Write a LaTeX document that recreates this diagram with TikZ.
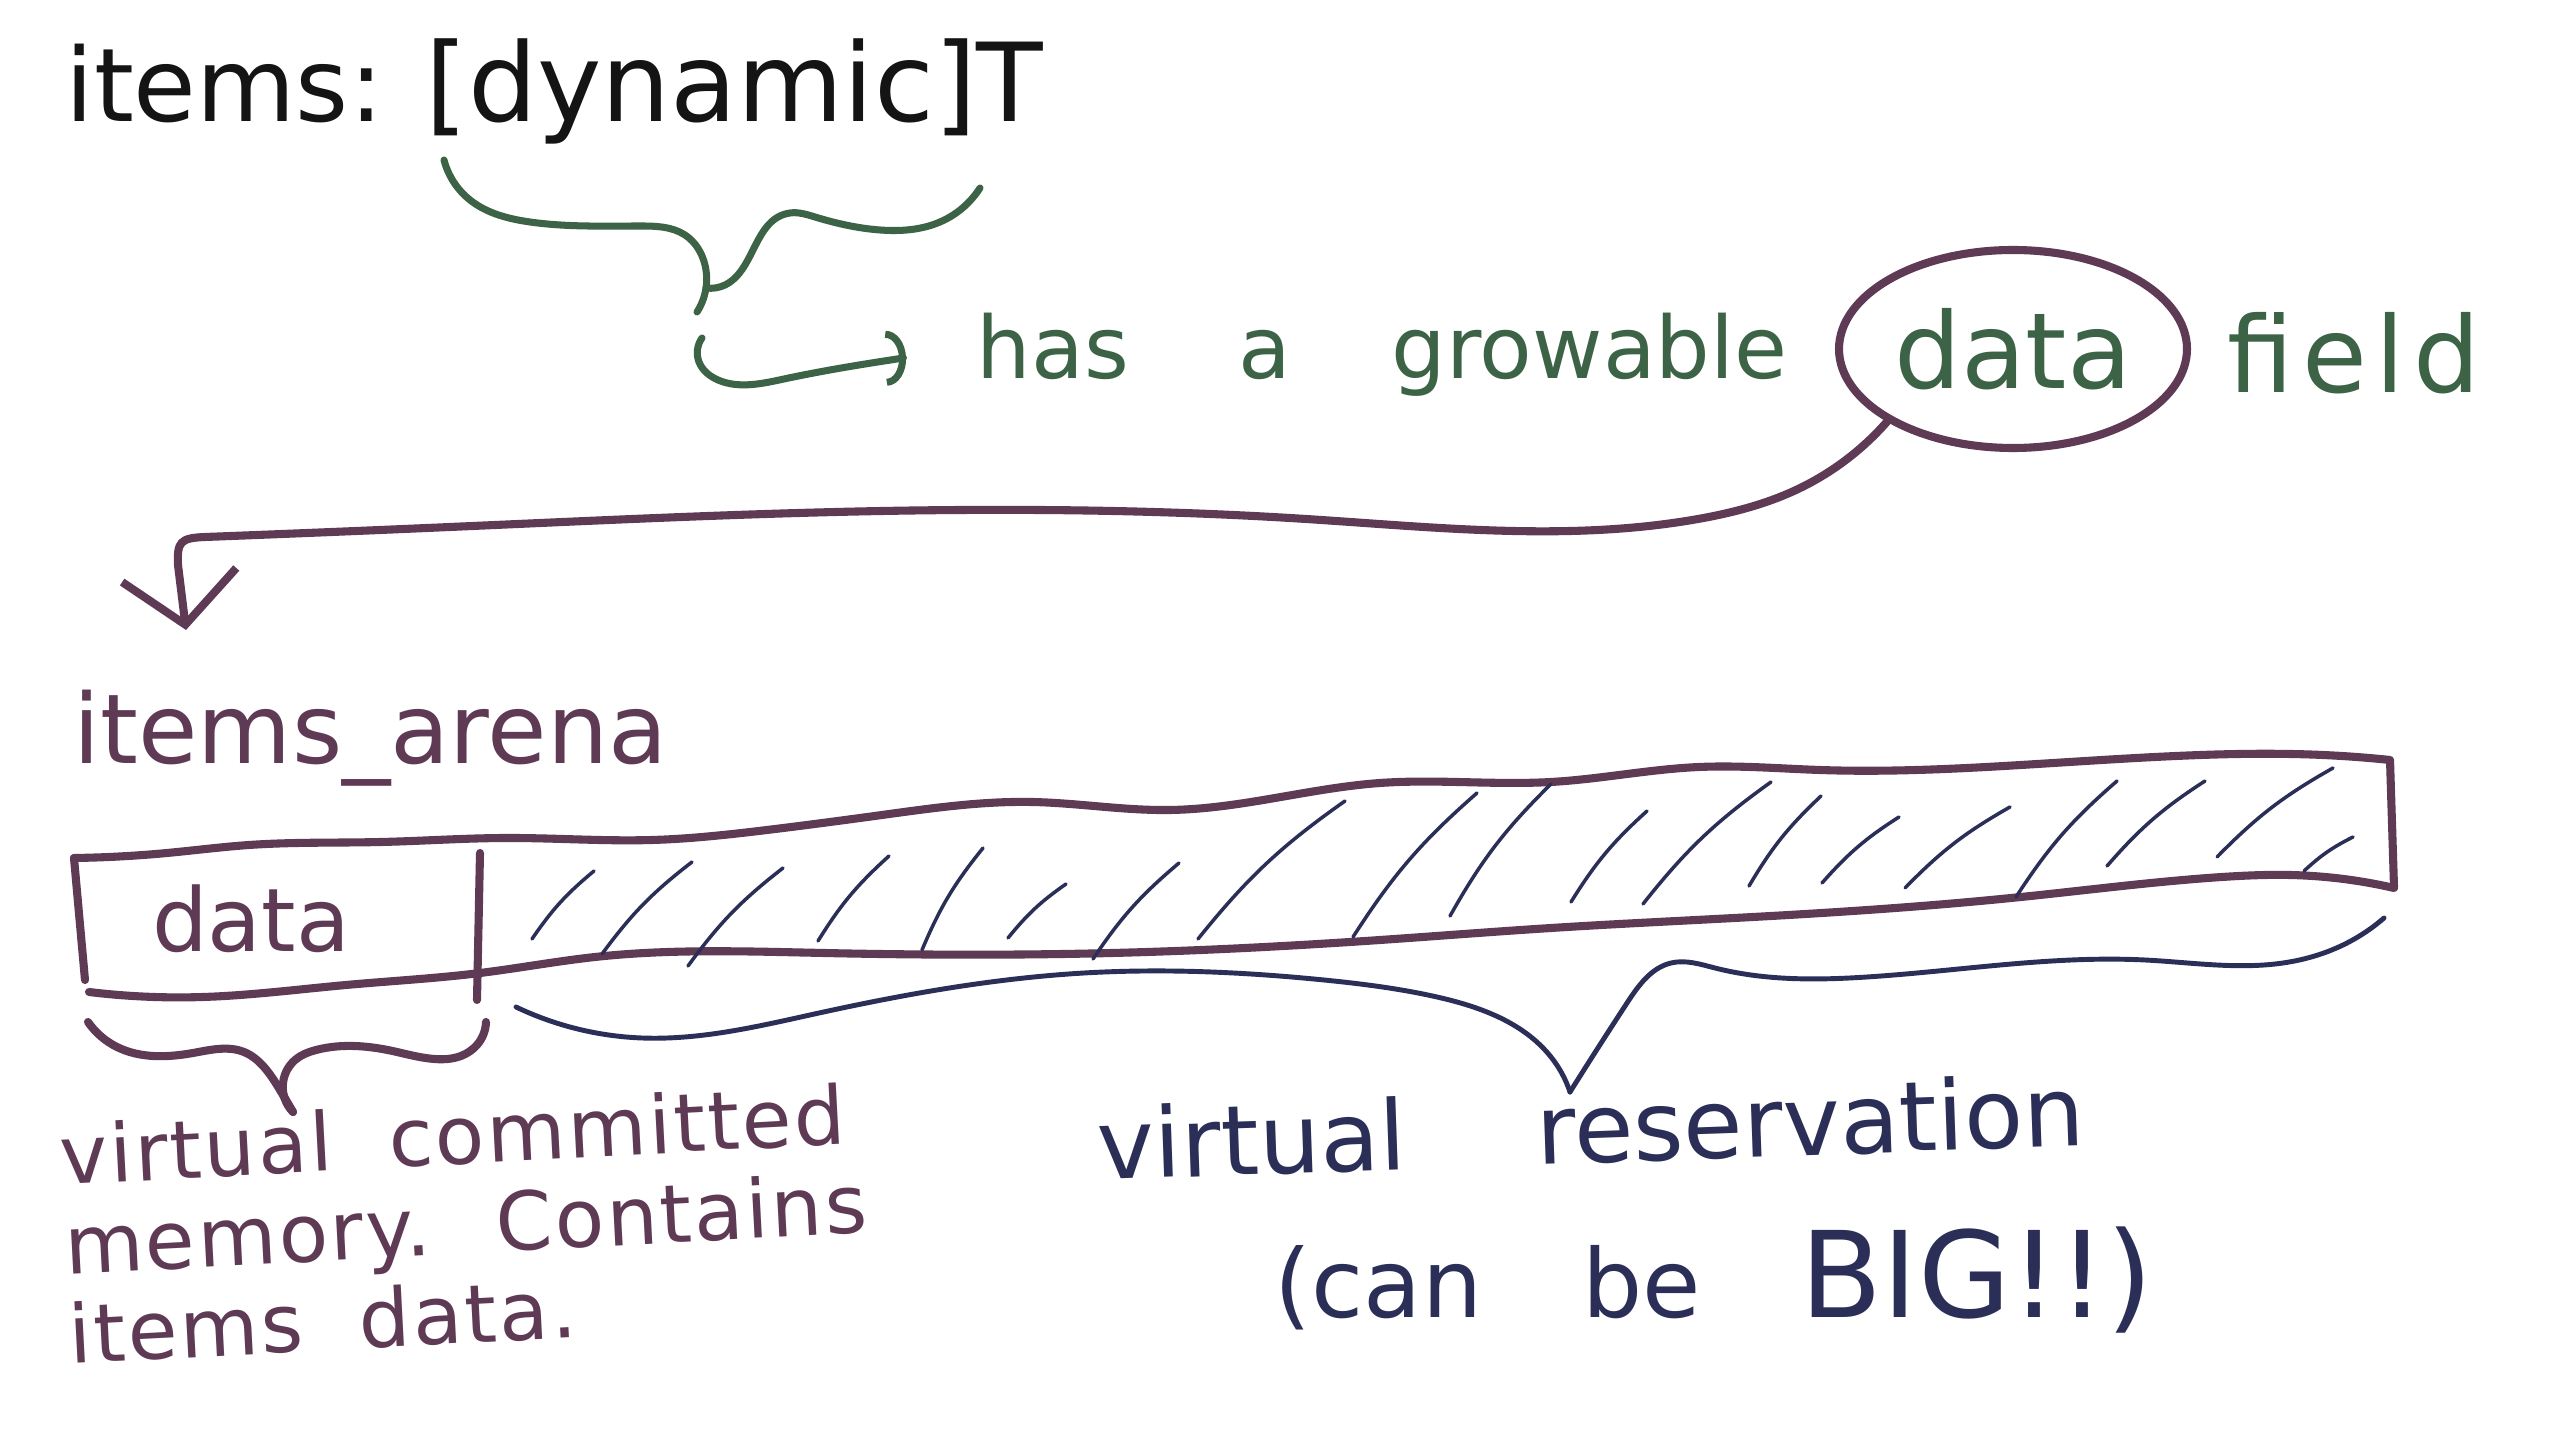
\documentclass[tikz,border=0pt]{standalone}
\usepackage{fontspec}
\setmainfont{DejaVu Sans}[WordSpace=2]
\usetikzlibrary{hobby}
\usetikzlibrary{arrows.meta}
\usetikzlibrary{shapes.geometric}
\definecolor{inkblack}{HTML}{141414}
\definecolor{inkgreen}{HTML}{3D6346}
\definecolor{inkplum}{HTML}{5E3A54}
\definecolor{inknavy}{HTML}{2B2F58}
\tikzset{
  green ink/.style={draw=inkgreen, line width=2pt, line cap=round, line join=round},
  plum ink/.style={draw=inkplum, line width=2.3pt, line cap=round, line join=round},
  navy ink/.style={draw=inknavy, line width=1.4pt, line cap=round, line join=round},
  hatchstroke/.style={draw=inknavy, line width=1pt, line cap=round},
  hand/.style={inner sep=0pt, font=\fontsize{#1}{#1}\selectfont},
}
\begin{document}
\begin{tikzpicture}
    \fill[white] (0,0) rectangle (25.6,14.4);
    \useasboundingbox (0,0) rectangle (25.6,14.4);
    %
    \node (decl) at (0.65,13.18) [anchor=base west, hand=29, text=inkblack] {items:};
    \node (dyntype) at (4.25,13.18) [anchor=base west, hand=31, text=inkblack] {[dynamic]T};
    % brace under the type
    \coordinate (bracetip) at (6.97,11.28);
    \draw[green ink] (4.44,12.80) to [curve through={(4.70,12.40) .. (5.30,12.18) .. (6.40,12.14) .. (6.85,12.05) .. (7.05,11.75)}] (bracetip);
    \draw[green ink] (7.06,11.52) to [curve through={(7.25,11.55) .. (7.90,12.27) .. (8.15,12.23) .. (8.80,12.10) .. (9.40,12.18)}] (9.80,12.52);
    %
    \node (growable) at (9.76,10.61) [anchor=base west, hand=24.5, text=inkgreen] {has\hspace{1.1cm}a\hspace{1cm}growable};
    \node (circled) at (20.13,10.91) [ellipse, plum ink, minimum width=3.48cm, minimum height=1.98cm, hand=30, text=inkgreen] {data};
    \node (field) at (22.27,10.47) [anchor=base west, hand=30, text=inkgreen] {\addfontfeature{LetterSpace=8}field};
    \coordinate (hookstart) at (7.02,11.02);
    \draw[green ink, -{Arc Barb[length=2mm,width=5.5mm]}, shorten >=7mm] (hookstart) to [curve through={(6.99,10.78) .. (7.18,10.60) .. (7.84,10.61)}] (growable.west);
    %
    % long arrow down to the arena
    \coordinate (arrowtip) at (1.86,8.10);
    \draw[plum ink, -{Straight Barb[length=5mm,width=11.5mm]}] (circled.210) to [curve through={(17.96,9.50) .. (16.98,9.21) .. (13.06,9.21) .. (8.82,9.29) .. (4.50,9.13)}] (2.05,9.03) .. controls (1.80,9.02) and (1.77,8.98) .. (1.78,8.75) -- (arrowtip);
    %
    \node (arena) at (0.73,6.76) [anchor=base west, hand=27.5, text=inkplum] {items\_arena};
    % the arena box
    \draw[plum ink] (0.74,5.82) to [curve through={(1.67,5.87) .. (2.49,5.95) .. (3.81,5.98) .. (5.06,6.02) .. (6.52,6.00) .. (7.67,6.10) .. (8.82,6.25) .. (10.32,6.38) .. (11.70,6.30) .. (13.80,6.57) .. (15.51,6.58) .. (16.99,6.73) .. (18.20,6.70) .. (20.21,6.75) .. (21.55,6.83) .. (23.23,6.85)}] (23.90,6.80) -- (23.94,5.53);
    \draw[plum ink] (23.94,5.52) to [curve through={(22.90,5.65) .. (22.22,5.63) .. (20.21,5.43) .. (17.53,5.23) .. (15.51,5.12) .. (13.80,5.00) .. (11.12,4.87) .. (8.24,4.87) .. (5.95,4.83) .. (4.80,4.67) .. (3.46,4.55) .. (2.03,4.43)}] (0.89,4.48);
    \draw[plum ink] (0.74,5.82) -- (0.85,4.60);
    \draw[plum ink] (4.80,5.87) -- (4.77,4.40);
    \node (cell) at (2.51,4.88) [anchor=base, hand=25, text=inkplum] {data};
    % hatching of the reserved part
    \foreach \xa/\ya/\xb/\yb in {5.32/5.01/5.94/5.69, 6.02/4.86/6.92/5.78, 6.88/4.74/7.83/5.72, 8.18/4.99/8.89/5.84,
        9.22/4.90/9.83/5.92, 10.08/5.02/10.66/5.56, 10.93/4.81/11.79/5.77, 11.98/5.01/13.45/6.39,
        13.53/5.03/14.77/6.47, 14.50/5.24/15.51/6.56, 15.71/5.38/16.47/6.29, 16.43/5.36/17.71/6.58,
        17.49/5.54/18.21/6.44, 18.22/5.57/18.99/6.23, 19.05/5.52/20.10/6.33, 20.16/5.43/21.17/6.59,
        21.07/5.74/22.05/6.59, 22.17/5.83/23.33/6.72, 23.04/5.69/23.53/6.03}
        \draw[hatchstroke] (\xa,\ya) to [bend left=8] (\xb,\yb);
    %
    % braces under the box
    \draw[plum ink] (0.88,4.18) to [curve through={(1.17,3.93) .. (1.93,3.87) .. (2.44,3.88) .. (2.64,3.73) .. (2.80,3.50)}] (2.93,3.28);
    \draw[plum ink] (2.93,3.28) to [curve through={(2.95,3.80) .. (3.16,3.90) .. (3.97,3.88) .. (4.74,3.92)}] (4.86,4.18);
    \draw[navy ink] (5.16,4.33) to [curve through={(6.42,4.02) .. (8.19,4.27) .. (10.84,4.67) .. (13.24,4.60) .. (14.37,4.43) .. (15.51,3.83)}] (15.70,3.48);
    \draw[navy ink] (15.70,3.48) to [curve through={(16.27,4.37) .. (16.71,4.77) .. (17.15,4.72) .. (18.67,4.63) .. (21.45,4.80) .. (22.83,4.77) .. (23.47,4.97)}] (23.84,5.22);
    %
    \node (committed) at (0.70,0.76) [anchor=base west, rotate=3, align=left, inner sep=0pt, font=\fontsize{23}{25.5}\selectfont\addfontfeature{LetterSpace=3}, text=inkplum] {virtual committed\\memory. Contains\\items data.};
    \node (virtres) at (10.98,2.60) [anchor=base west, rotate=2, hand=27.5, text=inknavy] {virtual\hspace{1.3cm}reservation};
    \node (canbig) at (12.74,1.23) [anchor=base west, hand=27, text=inknavy] {(can\hspace{1cm}be\hspace{1cm}{\fontsize{34}{34}\selectfont BIG!!)}};
\end{tikzpicture}
\end{document}
